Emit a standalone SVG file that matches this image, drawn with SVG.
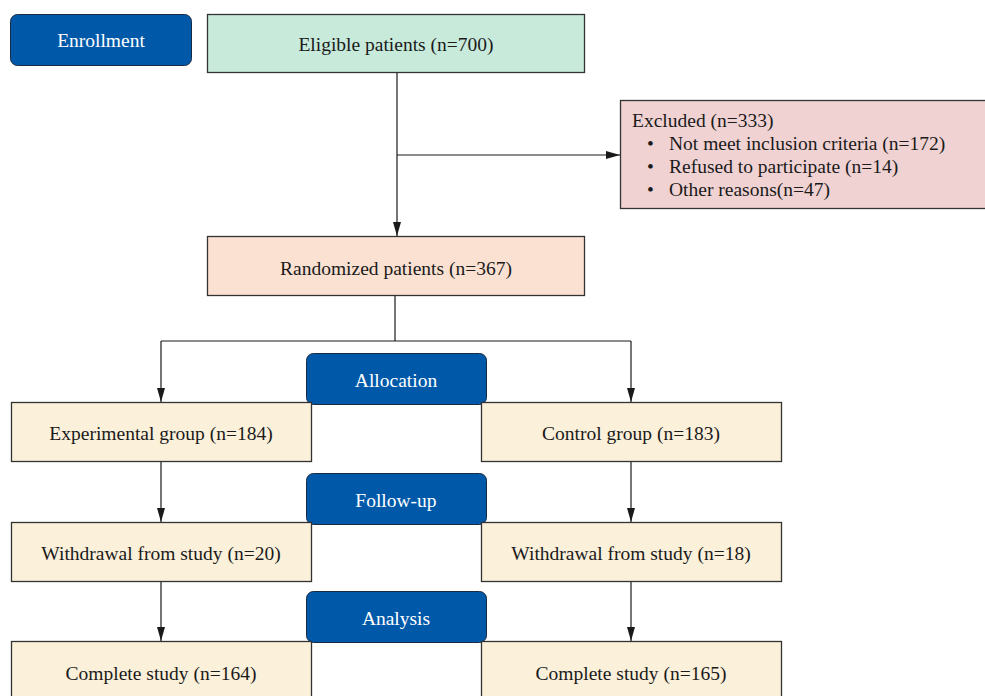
<svg xmlns="http://www.w3.org/2000/svg" width="985" height="696" viewBox="0 0 985 696">
<defs>
<style>
text{font-family:"Liberation Serif","Times New Roman",serif;font-size:19.5px;fill:#1a1a1a}
.stage rect{fill:#0059a8;stroke:#1a2a40;stroke-width:1}
.stage text{fill:#ffffff;text-anchor:middle}
.box{stroke:#333;stroke-width:1.3}
.c{text-anchor:middle}
.conn path{fill:none;stroke:#1a1a1a;stroke-width:1.2}
</style>
<marker id="arr" viewBox="0 0 14 8" refX="14" refY="4" markerWidth="14" markerHeight="8" markerUnits="userSpaceOnUse" orient="auto">
<path d="M0,0 L14,4 L0,8 Z" fill="#1a1a1a"/>
</marker>
</defs>
<rect width="985" height="696" fill="#ffffff"/>
<g class="conn">
<path d="M397,73 V236" marker-end="url(#arr)"/>
<path d="M397,155 H620" marker-end="url(#arr)"/>
<path d="M395,296 V341"/>
<path d="M161,341 H631"/>
<path d="M161,341 V402" marker-end="url(#arr)"/>
<path d="M631,341 V402" marker-end="url(#arr)"/>
<path d="M161,462 V522" marker-end="url(#arr)"/>
<path d="M631,462 V522" marker-end="url(#arr)"/>
<path d="M161,582 V641" marker-end="url(#arr)"/>
<path d="M631,582 V641" marker-end="url(#arr)"/>
</g>
<g id="enrollment" class="stage"><rect x="10.5" y="14.5" width="181" height="51" rx="7"/><text x="101" y="47">Enrollment</text></g>
<g id="eligible"><rect class="box" x="207.5" y="14.5" width="377" height="58" fill="#c8eadb"/><text class="c" x="396" y="51">Eligible patients (n=700)</text></g>
<g id="excluded"><rect class="box" x="620.5" y="100.5" width="366" height="108" fill="#f0d2d3"/>
<text x="632" y="127">Excluded (n=333)</text>
<text x="647" y="150">•</text><text x="669" y="150">Not meet inclusion criteria (n=172)</text>
<text x="647" y="173">•</text><text x="669" y="173">Refused to participate (n=14)</text>
<text x="647" y="196">•</text><text x="669" y="196">Other reasons(n=47)</text>
</g>
<g id="randomized"><rect class="box" x="207.5" y="236.5" width="377" height="59" fill="#fae1d2"/><text class="c" x="396" y="275">Randomized patients (n=367)</text></g>
<g id="allocation" class="stage"><rect x="306.5" y="353.5" width="180" height="51" rx="7"/><text x="396" y="387">Allocation</text></g>
<g id="experimental"><rect class="box" x="11.5" y="402.5" width="300" height="59" fill="#fbf0da"/><text class="c" x="161" y="440">Experimental group (n=184)</text></g>
<g id="control"><rect class="box" x="481.5" y="402.5" width="300" height="59" fill="#fbf0da"/><text class="c" x="631" y="440">Control group (n=183)</text></g>
<g id="followup" class="stage"><rect x="306.5" y="473.5" width="180" height="51" rx="7"/><text x="396" y="507">Follow-up</text></g>
<g id="withdrawal-exp"><rect class="box" x="11.5" y="522.5" width="300" height="59" fill="#fbf0da"/><text class="c" x="161" y="560">Withdrawal from study (n=20)</text></g>
<g id="withdrawal-ctl"><rect class="box" x="481.5" y="522.5" width="300" height="59" fill="#fbf0da"/><text class="c" x="631" y="560">Withdrawal from study (n=18)</text></g>
<g id="analysis" class="stage"><rect x="306.5" y="591.5" width="180" height="51" rx="7"/><text x="396" y="625">Analysis</text></g>
<g id="complete-exp"><rect class="box" x="11.5" y="641.5" width="300" height="60" fill="#fbf0da"/><text class="c" x="161" y="680">Complete study (n=164)</text></g>
<g id="complete-ctl"><rect class="box" x="481.5" y="641.5" width="300" height="60" fill="#fbf0da"/><text class="c" x="631" y="680">Complete study (n=165)</text></g>
</svg>
